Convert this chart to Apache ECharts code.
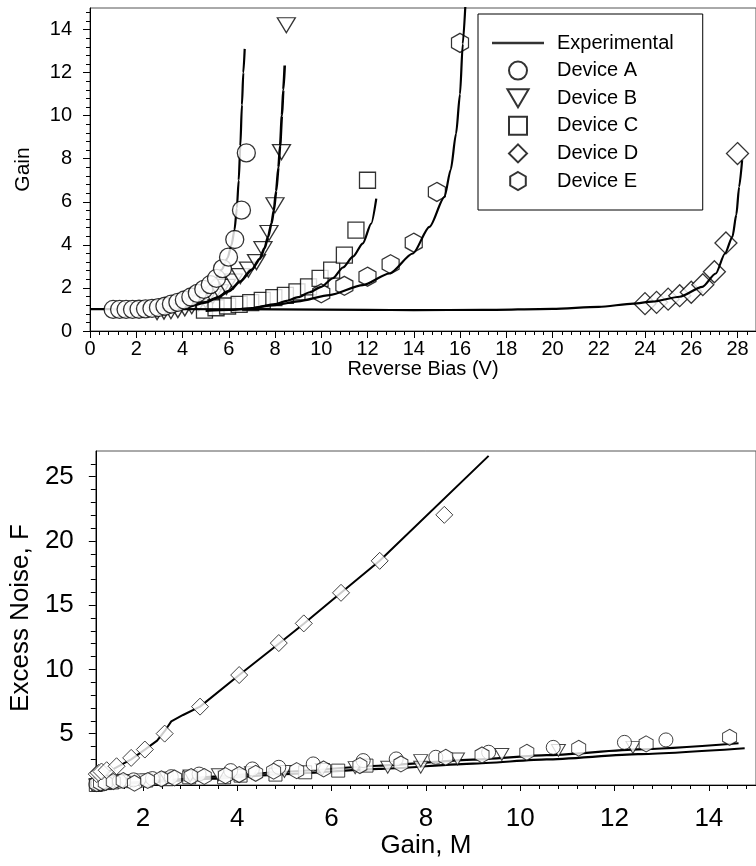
<!DOCTYPE html>
<html><head><meta charset="utf-8">
<script src="https://cdn.jsdelivr.net/npm/echarts@6/dist/echarts.min.js"></script>
<style>html,body{margin:0;padding:0;background:#fff}#c{width:756px;height:866px}</style>
</head><body><div id="c"></div>
<script>
// ---------- tick labels ----------
const topXTicks = [0,2,4,6,8,10,12,14,16,18,20,22,24,26,28];
const topYTicks = [0,2,4,6,8,10,12,14];
const botXTicks = [2,4,6,8,10,12,14];
const botYTicks = [5,10,15,20,25];
const legendNames = ['Experimental','Device A','Device B','Device C','Device D','Device E'];

// ---------- top panel: Gain vs Reverse Bias (V) ----------
const gainA = [[1.0,1.0],[1.28,1.0],[1.56,1.0],[1.84,1.0],[2.12,1.01],[2.4,1.03],[2.68,1.05],[2.96,1.09],[3.24,1.15],[3.52,1.25],[3.8,1.33],[4.08,1.44],[4.36,1.58],[4.64,1.75],[4.92,1.93],[5.2,2.15],[5.47,2.44],[5.73,2.9],[5.99,3.43],[6.26,4.25],[6.55,5.61],[6.76,8.27]];
const gainB = [[2.9,0.88],[3.2,0.9],[3.5,0.92],[3.8,0.97],[4.1,1.05],[4.4,1.15],[4.7,1.28],[5.0,1.42],[5.3,1.6],[5.6,1.8],[5.9,2.05],[6.2,2.3],[6.5,2.55],[6.85,2.85],[7.2,3.2],[7.48,3.8],[7.74,4.55],[8.0,5.84],[8.28,8.31],[8.49,14.2]];
const gainC = [[4.95,0.97],[5.45,1.08],[5.95,1.16],[6.45,1.24],[6.95,1.32],[7.45,1.42],[7.95,1.55],[8.45,1.65],[8.95,1.82],[9.45,2.05],[9.95,2.44],[10.45,2.83],[11.0,3.52],[11.5,4.68],[12.0,7.0]];
const gainD = [[24,1.27],[24.5,1.33],[25,1.48],[25.5,1.64],[26,1.8],[26.5,2.15],[27,2.75],[27.5,4.09],[28,8.24]];
const gainE = [[10,1.75],[11,2.1],[12,2.52],[13,3.1],[14,4.1],[15,6.46],[16,13.38]];

const fitA = [[1.0,1.0],[2.0,1.02],[2.5,1.05],[3.0,1.11],[3.5,1.22],[4.0,1.4],[4.5,1.65],[5.0,2.0],[5.4,2.4],[5.7,2.85],[5.95,3.4],[6.12,4.0],[6.25,4.7],[6.35,5.7],[6.43,7.0],[6.5,8.6],[6.57,10.5],[6.63,12.0],[6.69,13.1]];
const fitB = [[3.0,0.95],[4.0,1.05],[5.0,1.33],[5.5,1.55],[6.0,1.85],[6.5,2.3],[7.0,2.85],[7.34,3.35],[7.55,3.85],[7.7,4.37],[7.85,5.0],[7.95,5.6],[8.05,6.5],[8.15,7.6],[8.22,8.6],[8.3,10.0],[8.36,11.2],[8.42,12.33]];
const fitC = [[5.0,0.93],[6.0,0.98],[7.0,1.06],[8.0,1.25],[8.5,1.4],[9.0,1.57],[9.5,1.8],[10.0,2.05],[10.5,2.45],[10.94,2.95],[11.37,3.45],[11.8,4.07],[12.16,4.99],[12.38,6.15]];
const fitD = [[0,1.02],[4,1.02],[8,1.0],[12,0.98],[14,0.97],[17,0.98],[20,1.03],[22,1.12],[23.5,1.27],[24.3,1.36],[25.5,1.59],[26.48,2.05],[27.06,2.67],[27.46,3.6],[27.78,4.37],[27.95,5.4],[28.07,6.69],[28.2,7.93]];
const fitE = [[7.0,1.05],[8.0,1.2],[9.0,1.38],[10.36,1.67],[11.8,2.13],[12.95,2.67],[13.96,3.6],[14.68,4.84],[15.33,6.23],[15.6,7.5],[15.83,9.17],[16.0,11.0],[16.12,13.34],[16.25,15.5]];

// ---------- bottom panel: Excess Noise F vs Gain M ----------
const noiseA = [[1.0,1.05],[1.05,1.1],[1.15,1.2],[1.3,1.25],[1.5,1.3],[1.8,1.4],[2.2,1.5],[2.6,1.65],[3.19,1.85],[3.86,2.12],[4.32,2.25],[4.88,2.38],[5.61,2.64],[6.67,2.9],[7.37,3.03],[8.21,3.16],[9.33,3.55],[10.7,3.93],[12.21,4.32],[13.09,4.51]];
const noiseB = [[1.0,1.0],[1.1,1.1],[1.3,1.2],[1.6,1.3],[2.0,1.4],[2.5,1.55],[3.0,1.7],[3.6,1.8],[4.3,1.95],[5.0,2.05],[5.8,2.2],[6.5,2.35],[7.19,2.38],[7.89,2.38],[7.89,2.9],[8.67,3.03],[9.61,3.37],[10.81,3.68],[12.39,3.93]];
const noiseC = [[1.0,1.0],[1.05,1.05],[1.1,1.1],[1.2,1.15],[1.35,1.2],[1.6,1.3],[2.07,1.35],[2.5,1.45],[2.98,1.6],[3.72,1.6],[4.07,1.73],[4.81,1.81],[5.44,1.99],[6.14,2.12],[6.74,2.51]];
const noiseD = [[1.02,1.85],[1.06,1.95],[1.12,2.05],[1.23,2.15],[1.44,2.46],[1.75,3.11],[2.04,3.76],[2.46,5.0],[3.21,7.1],[4.04,9.56],[4.88,12.05],[5.41,13.58],[6.2,15.96],[7.02,18.45],[8.39,22.03]];
const noiseE = [[1.02,1.1],[1.1,1.15],[1.2,1.2],[1.37,1.27],[1.58,1.35],[1.82,1.14],[2.1,1.35],[2.39,1.48],[2.67,1.55],[3.02,1.66],[3.3,1.66],[3.75,1.73],[4.04,1.81],[4.39,1.91],[4.77,2.07],[5.26,2.12],[5.83,2.25],[6.6,2.51],[7.47,2.64],[8.42,3.16],[9.19,3.34],[10.14,3.55],[11.24,3.86],[12.67,4.2],[14.44,4.71]];
const noiseFitD = [[1.0,1.6],[1.3,2.1],[1.75,3.0],[2.04,3.75],[2.3,4.45],[2.48,5.3],[2.6,5.95],[2.85,6.45],[3.21,7.1],[4.04,9.56],[4.88,12.0],[5.41,13.55],[6.2,15.96],[7.02,18.45],[9.33,26.62]];
const noiseFitHigh = [[1,1.0],[1.5,1.12],[2,1.25],[2.5,1.38],[3.5,1.65],[5,2.03],[7,2.5],[9,2.97],[10.56,3.32],[12.5,3.77],[14.63,4.25]];
const noiseFitLow = [[1,1.0],[1.5,1.1],[2,1.2],[2.5,1.3],[3.5,1.5],[5,1.85],[7,2.25],[9,2.67],[10.56,2.99],[12.5,3.4],[14.76,3.86]];

// ---------- helpers ----------
const FONT = 'Liberation Sans, Arial, Helvetica, sans-serif';
function minorTicks(from, to, step, majors) {
  const out = [];
  for (let i = Math.ceil(from / step - 1e-9); i * step <= to + 1e-9; i++) {
    const v = Math.round(i * step * 100) / 100;
    if (v <= from || v >= to) continue;
    if (majors.some(m => Math.abs(m - v) < 1e-6)) continue;
    out.push(v);
  }
  return out;
}
const triDown = 'path://M0,0 L2,0 L1,1.7 Z';
const hexagon = 'path://M0.866,0 L1.732,0.5 L1.732,1.5 L0.866,2 L0,1.5 L0,0.5 Z';
const square = 'path://M0,0 L1,0 L1,1 L0,1 Z';
const diamond = 'path://M1,0 L2,1 L1,2 L0,1 Z';
const hLine = 'path://M0,0 L52,0 L52,2.4 L0,2.4 Z';
const mk = {color:'#fff', borderColor:'#000', borderWidth:1.3};
const mk2 = {color:'#fff', borderColor:'#111', borderWidth:1};

function valueAxis(grid, min, max, majors, minorStep, opts) {
  const minors = minorTicks(min, max, minorStep, majors);
  const main = Object.assign({
    type:'value', gridIndex:grid, min:min, max:max,
    splitLine:{show:false},
    axisLine:{show:true, onZero:false, lineStyle:{color:'#000', width:1}},
    axisTick:{show:true, inside:false, length:opts.majorLen, customValues:majors, lineStyle:{color:'#000'}},
    axisLabel:{show:true, customValues:majors, color:'#000', fontFamily:FONT, fontSize:opts.fontSize, margin:opts.margin},
    nameTextStyle:{color:'#000', fontFamily:FONT, fontSize:opts.nameSize}
  }, opts.extra || {});
  const minor = {
    type:'value', gridIndex:grid, min:min, max:max, position:opts.position,
    splitLine:{show:false}, axisLine:{show:false, onZero:false},
    axisTick:{show:true, inside:false, length:opts.minorLen, customValues:minors, lineStyle:{color:'#000'}},
    axisLabel:{show:false}
  };
  return [main, minor];
}

const topX = valueAxis(0, 0, 28.8, topXTicks, 0.4, {majorLen:7, minorLen:4, fontSize:20, margin:8, nameSize:20, position:'bottom',
  extra:{position:'bottom', name:'Reverse Bias (V)', nameLocation:'middle', nameGap:25}});
const topY = valueAxis(0, 0, 15, topYTicks, 0.4, {majorLen:7, minorLen:4, fontSize:20, margin:18, nameSize:21, position:'left',
  extra:{position:'left', name:'Gain', nameLocation:'middle', nameGap:56}});
const botX = valueAxis(1, 1, 15, botXTicks, 0.4, {majorLen:6, minorLen:4, fontSize:26, margin:21, nameSize:26, position:'bottom',
  extra:{position:'bottom', name:'Gain, M', nameLocation:'middle', nameGap:48}});
const botY = valueAxis(1, 1, 27, botYTicks, 1, {majorLen:7, minorLen:5, fontSize:26, margin:22, nameSize:26, position:'left',
  extra:{position:'left', name:'Excess Noise, F', nameLocation:'middle', nameGap:58}});

function fitLine(data, xi, yi, name, z, width, smooth) {
  return {type:'line', name:name, xAxisIndex:xi, yAxisIndex:yi, data:data, showSymbol:false, symbol:'none',
    smooth:smooth, smoothMonotone:'x', lineStyle:{color:'#000', width:width}, itemStyle:{color:'#000'}, z:z, silent:true};
}
function pts(data, xi, yi, name, symbol, size, style, z) {
  return {type:'scatter', name:name, xAxisIndex:xi, yAxisIndex:yi, data:data, symbol:symbol, symbolSize:size,
    itemStyle:style, z:z, silent:true};
}

const option = {
  animation:false,
  backgroundColor:'#fff',
  textStyle:{fontFamily:FONT},
  grid:[
    {left:90, top:8, width:667, height:323, show:true, borderColor:'#555', borderWidth:1, backgroundColor:'transparent'},
    {left:92, top:451, width:665, height:334, show:true, borderColor:'#555', borderWidth:1, backgroundColor:'transparent'}
  ],
  xAxis:[topX[0], topX[1], botX[0], botX[1]],
  yAxis:[topY[0], topY[1], botY[0], botY[1]],
  legend:{
    data:legendNames, orient:'vertical', left:478, top:14,
    padding:[19,29,19,14], itemWidth:52, itemHeight:18, itemGap:7.6,
    borderColor:'#000', borderWidth:1, backgroundColor:'#fff', selectedMode:false,
    textStyle:{color:'#000', fontFamily:FONT, fontSize:20, padding:[0,0,0,8]}
  },
  series:[
    // legend key for the fitted curves (no data of its own)
    {type:'scatter', name:'Experimental', xAxisIndex:0, yAxisIndex:0, data:[], symbol:hLine, itemStyle:{color:'#000'}},
    pts(gainB, 0, 0, 'Device B', triDown, [18,15], mk, 2),
    pts(gainC, 0, 0, 'Device C', square, 16, mk, 2),
    pts(gainD, 0, 0, 'Device D', diamond, 22, mk, 2),
    pts(gainE, 0, 0, 'Device E', hexagon, [17,19], mk, 2),
    fitLine(fitD, 0, 0, 'Experimental', 3, 2.2, 0.25),
    fitLine(fitA, 0, 0, 'Experimental', 3, 2.2, 0.25),
    fitLine(fitB, 0, 0, 'Experimental', 3, 2.6, 0.25),
    fitLine(fitC, 0, 0, 'Experimental', 3, 2.2, 0.25),
    fitLine(fitE, 0, 0, 'Experimental', 3, 2.2, 0.25),
    pts(gainA, 0, 0, 'Device A', 'circle', 18, mk, 4),

    fitLine(noiseFitD, 2, 2, 'fitD', 2, 2, false),
    fitLine(noiseFitHigh, 2, 2, 'fitHigh', 2, 2.2, 0.2),
    fitLine(noiseFitLow, 2, 2, 'fitLow', 2, 2.2, 0.2),
    pts(noiseC, 2, 2, 'C', square, 13, mk2, 3),
    pts(noiseB, 2, 2, 'B', triDown, [14,12], mk2, 3),
    pts(noiseA, 2, 2, 'A', 'circle', 14, mk2, 3),
    pts(noiseE, 2, 2, 'E', hexagon, [14,16], mk2, 3),
    pts(noiseD, 2, 2, 'D', diamond, 17, mk2, 4)
  ]
};
const chart = echarts.init(document.getElementById('c'), null, {renderer:'canvas'});
chart.setOption(option);
</script></body></html>
